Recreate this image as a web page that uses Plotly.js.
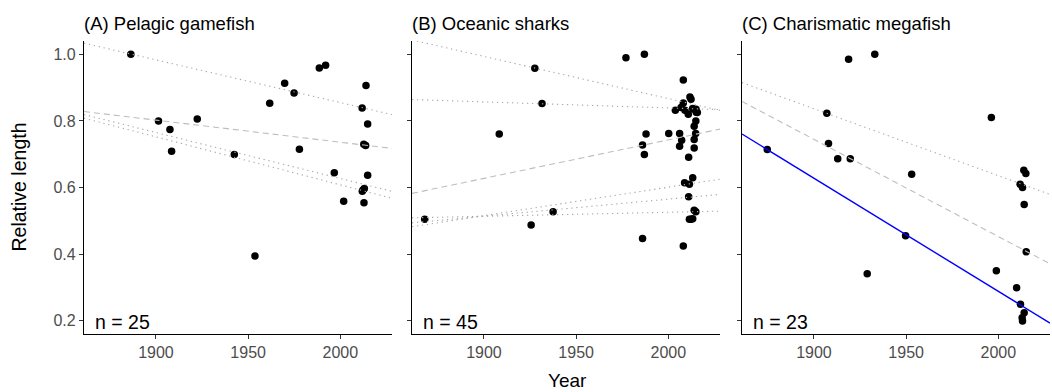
<!DOCTYPE html>
<html>
<head>
<meta charset="utf-8">
<script src="https://cdn.plot.ly/plotly-3.0.1.min.js"></script>
<style>html,body{margin:0;padding:0;background:#fff;}#chart{width:1052px;height:392px;}</style>
</head>
<body>
<div id="chart"></div>
<script>
// ---- Data ----
const panelTitles = ["(A) Pelagic gamefish", "(B) Oceanic sharks", "(C) Charismatic megafish"];
const sampleSizes = [25, 45, 23];

const yearsA = [1886.4, 1901.4, 1907.6, 1908.5, 1922.4, 1942.5, 1953.7, 1961.7, 1969.8, 1974.9, 1977.8, 1988.6, 1992.0, 1996.7, 2001.8, 2011.8, 2013.9, 2014.8, 2012.7, 2013.7, 2014.8, 2013.0, 2011.9, 2012.8, 2012.4];
const valsA  = [1.000, 0.800, 0.774, 0.709, 0.806, 0.699, 0.394, 0.853, 0.913, 0.884, 0.715, 0.959, 0.967, 0.644, 0.559, 0.839, 0.906, 0.791, 0.730, 0.726, 0.637, 0.597, 0.589, 0.554, 0.593];

const yearsB = [1867.9, 1908.3, 1925.6, 1927.6, 1931.5, 1937.5, 1977.0, 1987.0, 1986.0, 1987.9, 1986.0, 1987.0, 2000.2, 2008.1, 2008.1, 2003.8, 2006.1, 2007.2, 2006.1, 2008.1, 2006.9, 2010.8, 2011.7, 2012.3, 2013.2, 2015.1, 2014.9, 2014.0, 2014.8, 2014.0, 2014.0, 2011.0, 2013.2, 2008.8, 2011.4, 2011.0, 2014.0, 2014.9, 2011.4, 2013.2, 2013.5, 2009.0, 2015.7, 2012.3, 2015.0];
const valsB  = [0.505, 0.761, 0.487, 0.958, 0.852, 0.527, 0.990, 1.000, 0.447, 0.761, 0.728, 0.699, 0.762, 0.923, 0.424, 0.832, 0.762, 0.742, 0.724, 0.854, 0.840, 0.820, 0.872, 0.865, 0.837, 0.826, 0.800, 0.784, 0.762, 0.744, 0.719, 0.691, 0.629, 0.614, 0.610, 0.572, 0.532, 0.527, 0.505, 0.506, 0.836, 0.832, 0.825, 0.505, 0.835];

const yearsC = [1874.7, 1907.0, 1907.9, 1912.9, 1918.8, 1919.7, 1928.9, 1933.0, 1949.7, 1953.0, 1996.2, 1998.9, 2009.9, 2011.8, 2013.1, 2013.8, 2014.9, 2014.0, 2015.1, 2012.0, 2014.0, 2012.9, 2013.1];
const valsC  = [0.714, 0.823, 0.732, 0.686, 0.985, 0.686, 0.341, 1.000, 0.455, 0.640, 0.810, 0.350, 0.299, 0.610, 0.600, 0.652, 0.642, 0.549, 0.407, 0.249, 0.224, 0.209, 0.199];

// Fitted trend lines: value at year 2000 and slope per year
const linesA_at2000 = [0.855, 0.736, 0.627, 0.608];
const linesA_slope  = [-0.001284, -0.000663, -0.001381, -0.001441];
const linesA_kind   = ["dot", "dash", "dot", "dot"];

const linesB_at2000 = [0.867, 0.839, 0.743, 0.601, 0.565, 0.5256];
const linesB_slope  = [-0.001267, -0.000181, 0.001156, 0.000855, 0.000512, 0.00012];
const linesB_kind   = ["dot", "dot", "dash", "dot", "dot", "dot"];

const linesC_at2000 = [0.6355, 0.4526, 0.288];
const linesC_slope  = [-0.002011, -0.00292, -0.0034];
const linesC_kind   = ["dot", "dash", "solid"];

const xTicks = [1900, 1950, 2000];
const yTicks = [0.2, 0.4, 0.6, 0.8, 1.0];
const yTickText = ["0.2", "0.4", "0.6", "0.8", "1.0"];

// ---- Build ----
const xRange = [1861, 2028];
const yRange = [0.16, 1.04];
const FONT = "Liberation Sans, Arial, Helvetica, sans-serif";

const panels = [
  {years: yearsA, vals: valsA, a: linesA_at2000, s: linesA_slope, k: linesA_kind},
  {years: yearsB, vals: valsB, a: linesB_at2000, s: linesB_slope, k: linesB_kind},
  {years: yearsC, vals: valsC, a: linesC_at2000, s: linesC_slope, k: linesC_kind}
];

const lineStyle = {
  dot:   {color: "#A8A8A8", width: 1.1, dash: "1.3px,3.7px"},
  dash:  {color: "#BEBEBE", width: 1.1, dash: "6px,4px"},
  solid: {color: "#0000FF", width: 1.4, dash: "solid"}
};

const traces = [];
panels.forEach((p, i) => {
  const xa = i === 0 ? "x" : "x" + (i + 1);
  const ya = i === 0 ? "y" : "y" + (i + 1);
  traces.push({
    type: "scatter", mode: "markers", x: p.years, y: p.vals, xaxis: xa, yaxis: ya,
    marker: {color: "#000", size: 7.5, line: {width: 0}}, hoverinfo: "x+y", showlegend: false
  });
  p.a.forEach((a, j) => {
    const xs = xRange.slice();
    const ys = xs.map(x => a + p.s[j] * (x - 2000));
    traces.push({
      type: "scatter", mode: "lines", x: xs, y: ys, xaxis: xa, yaxis: ya,
      line: lineStyle[p.k[j]], hoverinfo: "skip", showlegend: false
    });
  });
});

const W = 966;
const domains = [[0, 308 / W], [328 / W, 636 / W], [658 / W, 1]];

function xAxis(i) {
  return {
    domain: domains[i], range: xRange, anchor: i === 0 ? "y" : "y" + (i + 1),
    tickmode: "array", tickvals: xTicks, ticktext: xTicks.map(String),
    showline: true, linecolor: "#000", linewidth: 1.1, mirror: false,
    ticks: "outside", ticklen: 4, tickwidth: 1, tickcolor: "#333",
    tickfont: {family: FONT, size: 16, color: "#4D4D4D"},
    showgrid: false, zeroline: false, fixedrange: true
  };
}
function yAxis(i) {
  return {
    domain: [0, 1], range: yRange, anchor: i === 0 ? "x" : "x" + (i + 1),
    tickmode: "array", tickvals: yTicks, ticktext: yTickText,
    showticklabels: i === 0,
    showline: true, linecolor: "#000", linewidth: 1.1,
    ticks: "outside", ticklen: 4, tickwidth: 1, tickcolor: "#333",
    tickfont: {family: FONT, size: 16, color: "#4D4D4D"},
    showgrid: false, zeroline: false, fixedrange: true
  };
}

const annotations = [];
panelTitles.forEach((t, i) => {
  annotations.push({
    text: t, xref: "paper", yref: "paper", x: domains[i][0], y: 1,
    xanchor: "left", yanchor: "middle", yshift: 18, xshift: -2, showarrow: false,
    font: {family: FONT, size: 18.5, color: "#000"}
  });
  annotations.push({
    text: "n = " + sampleSizes[i], xref: "paper", yref: "paper", x: domains[i][0], y: 0,
    xanchor: "left", yanchor: "middle", xshift: 9, yshift: 12, showarrow: false,
    font: {family: FONT, size: 19.5, color: "#000"}
  });
});
annotations.push({
  text: "Year", xref: "paper", yref: "paper", x: 0.5, y: 0, xanchor: "center", yanchor: "middle",
  yshift: -46, showarrow: false, font: {family: FONT, size: 19, color: "#000"}
});
annotations.push({
  text: "Relative length", xref: "paper", yref: "paper", x: 0, y: 0.5, xanchor: "center", yanchor: "middle",
  xshift: -66, textangle: -90, showarrow: false, font: {family: FONT, size: 19.5, color: "#000"}
});

const layout = {
  width: 1052, height: 392,
  margin: {l: 84, r: 2, t: 41, b: 58, pad: 0},
  paper_bgcolor: "#fff", plot_bgcolor: "#fff",
  showlegend: false,
  font: {family: FONT},
  xaxis: xAxis(0), xaxis2: xAxis(1), xaxis3: xAxis(2),
  yaxis: yAxis(0), yaxis2: yAxis(1), yaxis3: yAxis(2),
  annotations: annotations
};

Plotly.newPlot("chart", traces, layout, {staticPlot: true, displayModeBar: false});
</script>
</body>
</html>
